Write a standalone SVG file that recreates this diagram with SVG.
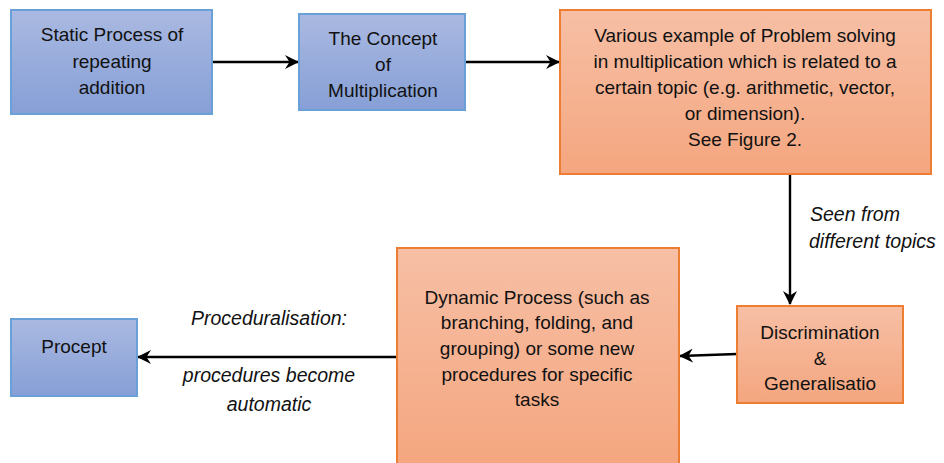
<svg xmlns="http://www.w3.org/2000/svg" width="944" height="463" viewBox="0 0 944 463">
<defs>
<linearGradient id="gb" x1="0" y1="0" x2="0" y2="1"><stop offset="0" stop-color="#aab9e1"/><stop offset="1" stop-color="#869fd6"/></linearGradient>
<linearGradient id="go" x1="0" y1="0" x2="0" y2="1"><stop offset="0" stop-color="#f7bfa5"/><stop offset="1" stop-color="#f4a67f"/></linearGradient>
<marker id="ah" markerWidth="14" markerHeight="14" refX="13" refY="7" orient="auto" markerUnits="userSpaceOnUse"><path d="M0,0 L14,7 L0,14 L4.5,7 Z" fill="#000"/></marker>
<style>
.b{fill:url(#gb);stroke:#6aa0d8;stroke-width:2}
.o{fill:url(#go);stroke:#ed7d31;stroke-width:2}
text{font-family:"Liberation Sans",Arial,sans-serif;font-size:19px;fill:#111;text-anchor:middle}
.i{font-style:italic;font-size:19.5px}
.c{stroke:#000;stroke-width:2.4;fill:none;marker-end:url(#ah)}
</style>
</defs>
<g id="connectors">
<line class="c" x1="212" y1="62" x2="298" y2="62"/>
<line class="c" x1="465" y1="62" x2="559" y2="62"/>
<line class="c" x1="790" y1="174" x2="790" y2="304"/>
<line class="c" x1="737" y1="354" x2="680" y2="356"/>
<line class="c" x1="397" y1="357" x2="138" y2="357"/>
<text class="i" x="810" y="221" style="text-anchor:start">Seen from</text>
<text class="i" x="809" y="248" style="text-anchor:start">different topics</text>
<text class="i" x="269" y="325">Proceduralisation:</text>
<text class="i" x="269" y="382">procedures become</text>
<text class="i" x="269" y="411">automatic</text>
</g>
<g id="n1"><rect class="b" x="11" y="10" width="201" height="104"/>
<text x="112" y="41">Static Process of</text><text x="112" y="68">repeating</text><text x="112" y="94">addition</text></g>
<g id="n2"><rect class="b" x="299" y="14" width="166" height="96"/>
<text x="383" y="45">The Concept</text><text x="383" y="71">of</text><text x="383" y="97">Multiplication</text></g>
<g id="n3"><rect class="o" x="560" y="10" width="371" height="164"/>
<text x="745" y="42">Various example of Problem solving</text>
<text x="745" y="68">in multiplication which is related to a</text>
<text x="745" y="94">certain topic (e.g. arithmetic, vector,</text>
<text x="745" y="120">or dimension).</text>
<text x="745" y="146">See Figure 2.</text></g>
<g id="n4"><rect class="o" x="737" y="306" width="166" height="97"/>
<text x="820" y="339">Discrimination</text><text x="820" y="365">&amp;</text><text x="820" y="390">Generalisatio</text></g>
<g id="n5"><rect class="o" x="397" y="248" width="282" height="220"/>
<text x="537" y="304">Dynamic Process (such as</text>
<text x="537" y="329">branching, folding, and</text>
<text x="537" y="355">grouping) or some new</text>
<text x="537" y="381">procedures for specific</text>
<text x="537" y="406">tasks</text></g>
<g id="n6"><rect class="b" x="11" y="319" width="126" height="77"/>
<text x="74" y="353">Procept</text></g>
</svg>
